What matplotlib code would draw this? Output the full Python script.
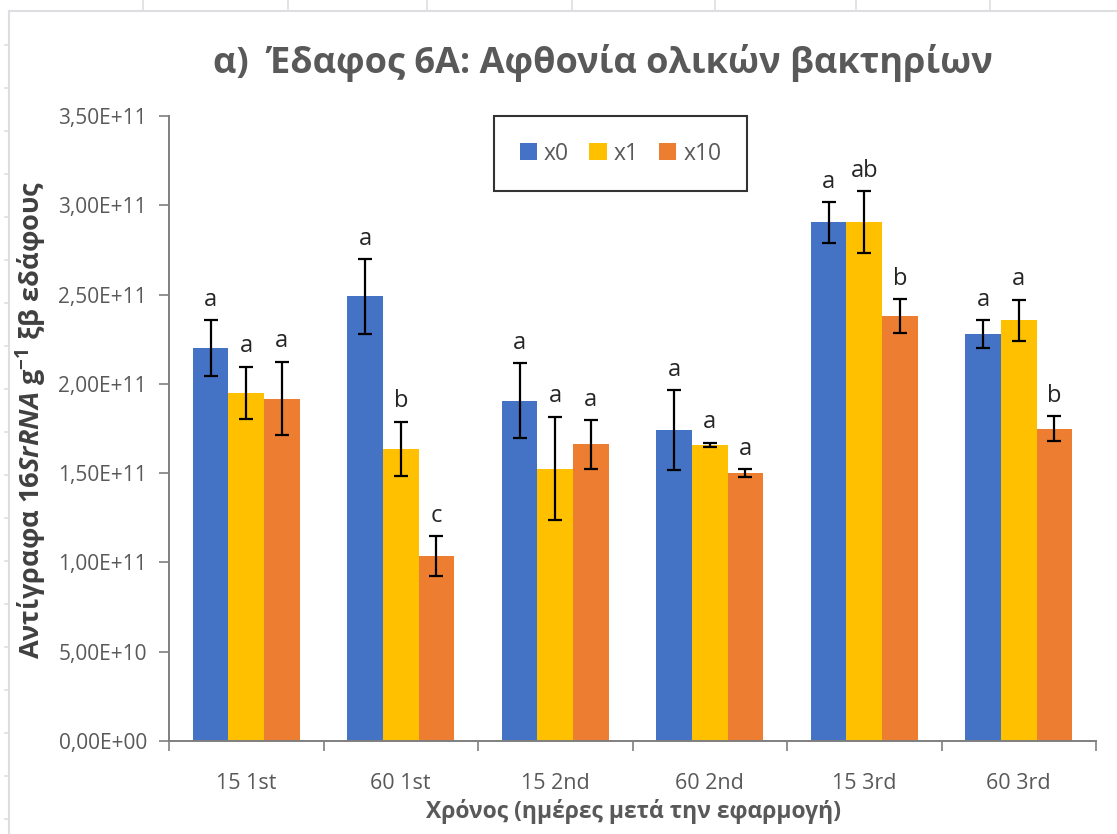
import matplotlib
matplotlib.use("Agg")
import matplotlib.pyplot as plt
from matplotlib.lines import Line2D
from matplotlib.ticker import FuncFormatter
import numpy as np

# --- data -------------------------------------------------------------
categories = ["15 1st", "60 1st", "15 2nd", "60 2nd", "15 3rd", "60 3rd"]
series_names = ["x0", "x1", "x10"]

x0_mean = [2.20e11, 2.49e11, 1.905e11, 1.74e11, 2.905e11, 2.28e11]
x1_mean = [1.95e11, 1.637e11, 1.526e11, 1.66e11, 2.905e11, 2.355e11]
x10_mean = [1.918e11, 1.034e11, 1.661e11, 1.502e11, 2.38e11, 1.75e11]

x0_err = [0.157e11, 0.21e11, 0.21e11, 0.224e11, 0.114e11, 0.078e11]
x1_err = [0.146e11, 0.152e11, 0.29e11, 0.011e11, 0.174e11, 0.117e11]
x10_err = [0.207e11, 0.112e11, 0.135e11, 0.022e11, 0.095e11, 0.068e11]

x0_letters = ["a", "a", "a", "a", "a", "a"]
x1_letters = ["a", "b", "a", "a", "ab", "a"]
x10_letters = ["a", "c", "a", "a", "b", "b"]

colors = ["#4472C4", "#FFC000", "#ED7D31"]

title = "α)  Έδαφος 6Α: Αφθονία ολικών βακτηρίων"
xlabel = "Χρόνος (ημέρες μετά την εφαρμογή)"
ylabel = r"Αντίγραφα $\mathit{16SrRNA}$ g$^{-1}$ ξβ εδάφους"

# --- figure -----------------------------------------------------------
W, H = 1117, 834
plt.rcParams["font.family"] = ["Open Sans", "DejaVu Sans"]
plt.rcParams["mathtext.fontset"] = "custom"
plt.rcParams["mathtext.it"] = "Open Sans:italic:bold"
plt.rcParams["mathtext.rm"] = "Open Sans:bold"

fig = plt.figure(figsize=(W / 100, H / 100), dpi=100)
fig.patch.set_facecolor("white")

def fx(px):
    return px / W

def fy(py):
    return 1 - py / H

ax = fig.add_axes([fx(169), fy(741), fx(1096) - fx(169), fy(116) - fy(741)])

grey_text = "#595959"
axis_grey = "#7f7f7f"

means = [x0_mean, x1_mean, x10_mean]
errs = [x0_err, x1_err, x10_err]
letters = [x0_letters, x1_letters, x10_letters]

xpos = np.arange(len(categories))
bw = 0.23
offsets = [-bw, 0.0, bw]

for k in range(3):
    ax.bar(xpos + offsets[k], means[k], width=bw, color=colors[k],
           label=series_names[k], zorder=2)
    ax.errorbar(xpos + offsets[k], means[k], yerr=errs[k], fmt="none",
                ecolor="black", elinewidth=1.6, capsize=4.8, capthick=1.6,
                zorder=3)
    for i in range(len(categories)):
        ax.annotate(letters[k][i], (xpos[i] + offsets[k], means[k][i] + errs[k][i]),
                    xytext=(0, 6), textcoords="offset points",
                    ha="center", va="bottom", fontsize=17, color="#262626")

ax.set_xlim(-0.5, len(categories) - 0.5)
ax.set_ylim(0, 3.5e11)
ax.set_yticks(np.arange(0, 3.51e11, 0.5e11))
ax.yaxis.set_major_formatter(FuncFormatter(lambda v, p: f"{v:.2E}".replace(".", ",")))

ax.set_xticks(xpos)
ax.set_xticklabels(categories)
ax.set_xticks(np.arange(-0.5, len(categories)), minor=True)
ax.tick_params(axis="x", which="major", length=0, pad=23, labelsize=15.5,
               labelcolor=grey_text)
ax.tick_params(axis="x", which="minor", length=7, width=1.2, color=axis_grey,
               direction="out")
ax.tick_params(axis="y", which="major", length=7, width=1.2, color=axis_grey,
               labelsize=15, labelcolor=grey_text, pad=9)

for s in ["top", "right"]:
    ax.spines[s].set_visible(False)
for s in ["left", "bottom"]:
    ax.spines[s].set_color(axis_grey)
    ax.spines[s].set_linewidth(1.4)

# title and axis labels
fig.text(fx(603), fy(63), title, ha="center", va="center", fontsize=26,
         fontweight="bold", color=grey_text)
fig.text(fx(633), fy(812), xlabel, ha="center", va="center", fontsize=16.5,
         fontweight="bold", color=grey_text)
fig.text(fx(31), fy(420), ylabel, ha="center", va="center", rotation=90,
         fontsize=19.5, fontweight="bold", color="#404040")

# legend
leg = ax.legend(loc="center", bbox_to_anchor=(fx(620.5), fy(153.5)),
                bbox_transform=fig.transFigure, ncol=3, frameon=True,
                fancybox=False, fontsize=16.5, handlelength=0.75,
                handleheight=0.75, handletextpad=0.3, columnspacing=0.9,
                borderpad=1.1, labelcolor=grey_text)
leg.get_frame().set_edgecolor("black")
leg.get_frame().set_linewidth(1.5)

# light sheet frame around the chart object
frame_c = "#dcdee2"
fig.add_artist(Line2D([fx(9), 1], [fy(11), fy(11)], color=frame_c, lw=1.5))
fig.add_artist(Line2D([fx(9), fx(9)], [fy(11), 0], color=frame_c, lw=1.5))
for px in [143, 288, 427, 572, 715, 856, 990]:
    fig.add_artist(Line2D([fx(px), fx(px)], [fy(11), 1], color=frame_c, lw=1.2))
for py in np.arange(45, 834, 43):
    fig.add_artist(Line2D([fx(5), fx(9)], [fy(py), fy(py)], color=frame_c, lw=1.2))

fig.savefig("out.png", dpi=100, facecolor="white")
